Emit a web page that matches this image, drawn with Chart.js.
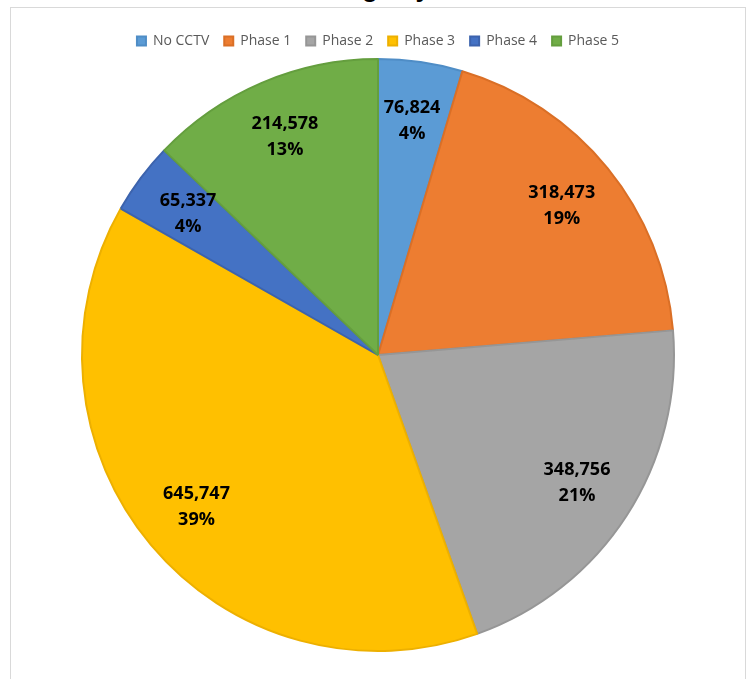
<!DOCTYPE html>
<html>
<head>
<meta charset="utf-8">
<script src="https://cdn.jsdelivr.net/npm/chart.js@4.4.1/dist/chart.umd.min.js"></script>
<style>
    html, body { margin: 0; padding: 0; background: #fff; overflow: hidden; }
    .title {
        position: absolute; left: 0; top: -27px; width: 747px; text-align: center;
        font: bold 26px "Liberation Sans", Arial, sans-serif; color: #000;
        padding-left: 58px; box-sizing: border-box;
    }
    .box {
        position: absolute; left: 10px; top: 7px; width: 734px; height: 700px;
        border: 1px solid #d9d9d9; background: #fff;
    }
    .chartWrap { position: absolute; left: 0; top: 0; width: 734px; height: 672px; }
</style>
</head>
<body>
<div class="box">
    <div class="chartWrap"><canvas id="pieChart"></canvas></div>
</div>
<div class="title">Footage by Phase</div>
<script>
const categories = ['No CCTV', 'Phase 1', 'Phase 2', 'Phase 3', 'Phase 4', 'Phase 5'];
const footage = [76824, 318473, 348756, 645747, 65337, 214578];
const percentLabels = ['4%', '19%', '21%', '39%', '4%', '13%'];
const sliceColors = ['#5B9BD5', '#ED7D31', '#A5A5A5', '#FFC000', '#4472C4', '#70AD47'];
const edgeColors = ['#4F8DC6', '#DA6F26', '#969696', '#EDB000', '#3C63AD', '#649E3E'];

// draws the value + percent inside each slice, like the excel data labels
const sliceLabels = {
    id: 'sliceLabels',
    afterDatasetsDraw(chart) {
        const ctx = chart.ctx;
        const meta = chart.getDatasetMeta(0);
        ctx.save();
        ctx.font = 'bold 18px "Open Sans", sans-serif';
        ctx.fillStyle = '#000';
        ctx.textAlign = 'center';
        ctx.textBaseline = 'middle';
        meta.data.forEach(function (arc, i) {
            const mid = (arc.startAngle + arc.endAngle) / 2;
            const d = arc.outerRadius * 0.8;
            const x = arc.x + Math.cos(mid) * d;
            const y = arc.y + Math.sin(mid) * d;
            ctx.fillText(footage[i].toLocaleString('en-US'), x, y - 13);
            ctx.fillText(percentLabels[i], x, y + 13);
        });
        ctx.restore();
    }
};

document.addEventListener('DOMContentLoaded', function () {
    const chartElement = document.getElementById('pieChart');

    new Chart(chartElement, {
        type: 'pie',
        data: {
            labels: categories,
            datasets: [{
                data: footage,
                backgroundColor: sliceColors,
                borderColor: edgeColors,
                borderWidth: 2
            }]
        },
        options: {
            responsive: true,
            maintainAspectRatio: false,
            animation: false,
            layout: { padding: { top: 11, bottom: 28 } },
            plugins: {
                legend: {
                    position: 'top',
                    labels: {
                        boxWidth: 9,
                        boxHeight: 9,
                        padding: 15,
                        color: '#595959',
                        font: { family: '"Open Sans", sans-serif', size: 14 }
                    }
                },
                tooltip: { enabled: false }
            }
        },
        plugins: [sliceLabels]
    });
});
</script>
</body>
</html>
